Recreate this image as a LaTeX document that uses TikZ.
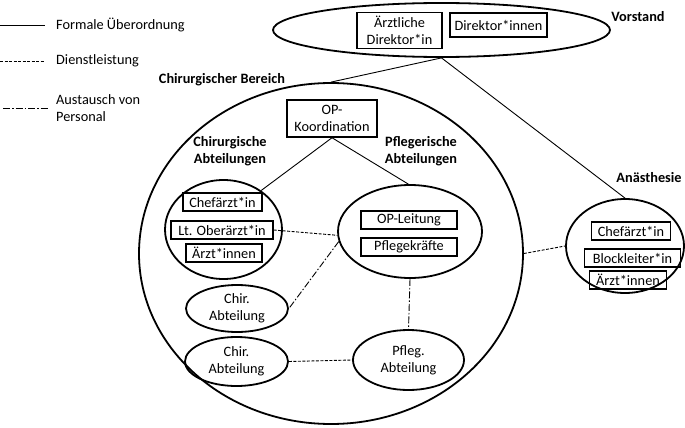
\documentclass[tikz,border=0pt]{standalone}
\usepackage{fontspec}
\setmainfont{Carlito}
\usetikzlibrary{shapes.geometric}
\begin{document}
\begin{tikzpicture}[x=1pt,y=-1pt,
  font=\fontsize{14.3}{17}\selectfont,
  oval/.style={ellipse, draw, line width=1.8pt, inner sep=0pt},
  box/.style={draw, line width=1.5pt, inner sep=0pt, align=center},
  lbl/.style={font=\fontsize{14.3}{17}\selectfont\bfseries, align=center, inner sep=0pt},
  txt/.style={inner sep=0pt, align=left, anchor=west},
  ctxt/.style={inner sep=0pt, align=center},
  solidc/.style={line width=0.9pt},
  dashc/.style={line width=0.9pt, dash pattern=on 3pt off 1.5pt},
  dashdotc/.style={line width=0.9pt, dash pattern=on 7pt off 2pt on 1.5pt off 2pt}]
\useasboundingbox (0,0) rectangle (685,428);

% legend
\coordinate (l1a) at (0,25);  \coordinate (l1b) at (45,25);
\coordinate (l2a) at (0,61);  \coordinate (l2b) at (45,61);
\coordinate (l3a) at (3,108); \coordinate (l3b) at (48,108);
\draw[solidc] (l1a) -- (l1b);
\draw[dashc] (l2a) -- (l2b);
\draw[dashdotc] (l3a) -- (l3b);
\node[txt] (lt1) at (56,25) {Formale Überordnung};
\node[txt] (lt2) at (56,61) {Dienstleistung};
\node[txt] (lt3) at (56,108.5) {Austausch von\\Personal};

% Vorstand
\node[oval, minimum width=337pt, minimum height=54pt] (vorstand) at (441.5,30) {};
\node[box, minimum width=85pt, minimum height=36pt] (aed) at (399.5,30.5) {Ärztliche\\Direktor*in};
\node[box, minimum width=97pt, minimum height=24pt] (dir) at (498.5,25) {Direktor*innen};
\node[lbl] (vorstandl) at (638,17) {Vorstand};

% Chirurgischer Bereich
\node[oval, minimum width=384pt, minimum height=341pt] (bereich) at (331,253.5) {};
\node[lbl] (bereichl) at (222,80) {Chirurgischer Bereich};
\node[box, minimum width=90pt, minimum height=37pt] (opk) at (332,118.5) {OP-\\Koordination};
\node[lbl] (chirl) at (230,151) {Chirurgische\\Abteilungen};
\node[lbl] (pflegl) at (421,151) {Pflegerische\\Abteilungen};

% Chirurgische Abteilungen
\node[oval, minimum width=117pt, minimum height=99pt] (chir) at (223.5,229.5) {};
\node[box, minimum width=79pt, minimum height=18pt] (cf1) at (222.5,202) {Chefärzt*in};
\node[box, minimum width=102pt, minimum height=18pt] (lto) at (222,230) {Lt. Oberärzt*in};
\node[box, minimum width=76pt, minimum height=18pt] (ae1) at (224,253) {Ärzt*innen};

% Pflegerische Abteilungen
\node[oval, minimum width=144pt, minimum height=93pt] (pflege) at (410,231.5) {};
\node[box, minimum width=96pt, minimum height=18pt] (opl) at (409,220) {OP-Leitung};
\node[box, minimum width=96pt, minimum height=18pt] (pk) at (409,247) {Pflegekräfte};

% lower departments
\node[oval, minimum width=102pt, minimum height=47pt] (chir1) at (237,308.5) {};
\node[ctxt] (chir1t) at (237,308.5) {Chir.\\Abteilung};
\node[oval, minimum width=103pt, minimum height=49pt] (chir2) at (236.5,361.5) {};
\node[ctxt] (chir2t) at (236.5,361.5) {Chir.\\Abteilung};
\node[oval, minimum width=111pt, minimum height=60pt] (pfleg) at (408.5,360) {};
\node[ctxt] (pflegt) at (408.5,360) {Pfleg.\\Abteilung};

% Anästhesie
\node[oval, minimum width=118pt, minimum height=94pt] (anae) at (625,246) {};
\node[lbl] (anael) at (649,178) {Anästhesie};
\node[box, minimum width=79pt, minimum height=18pt] (cf2) at (631,231) {Chefärzt*in};
\node[box, minimum width=96pt, minimum height=18pt] (bl) at (632.5,258) {Blockleiter*in};
\node[box, minimum width=77pt, minimum height=18pt] (ae2) at (628,280) {Ärzt*innen};

% connectors
\draw[solidc] (vorstand.south) -- (bereich.north);
\draw[solidc] (vorstand.south) -- (anae.north);
\draw[solidc] (opk.south) -- (chir.46);
\draw[solidc] (opk.south) -- (pflege.92);
\draw[dashc] (lto.east) -- (pflege.183);
\draw[dashdotc] (pflege.188) -- (chir1.east);
\draw[dashdotc] (pflege.south) -- (pfleg.north);
\draw[dashc] (chir2.east) -- (pfleg.west);
\draw[dashc] (bereich.east) -- (anae.west);
\end{tikzpicture}
\end{document}
